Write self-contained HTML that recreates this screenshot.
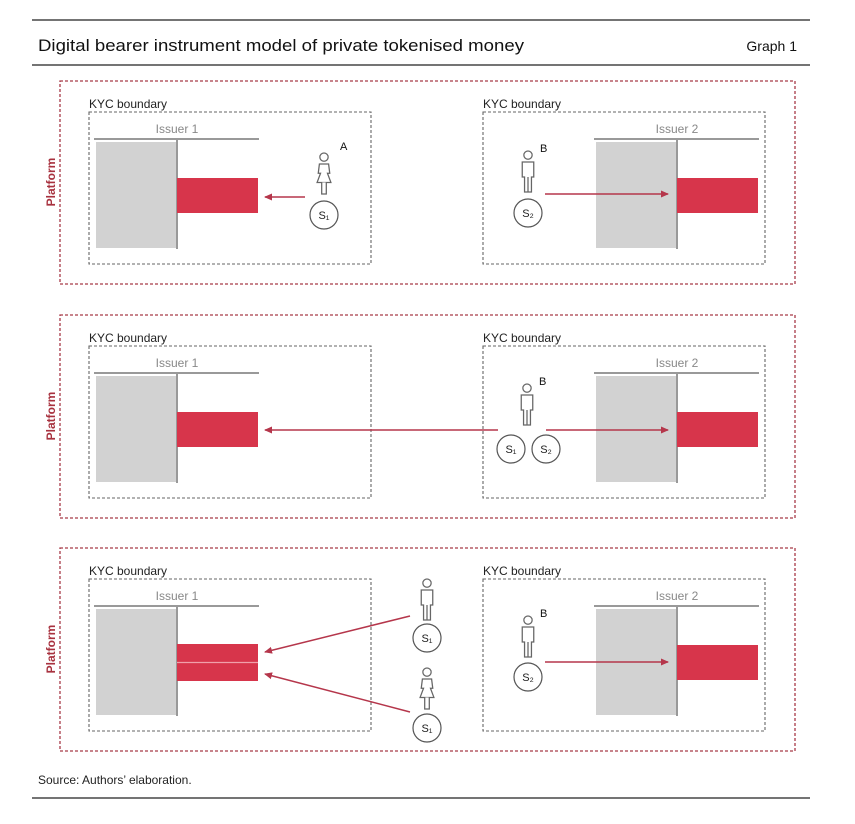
<!DOCTYPE html>
<html><head><meta charset="utf-8"><style>
html,body{margin:0;padding:0;background:#fff;}
svg{display:block;font-family:"Liberation Sans",sans-serif;}
</style></head><body>
<svg width="855" height="824" viewBox="0 0 855 824" xmlns="http://www.w3.org/2000/svg">
<defs>
<marker id="ah" markerWidth="8" markerHeight="8" refX="7" refY="4" orient="auto" markerUnits="userSpaceOnUse">
<path d="M0,0.5 L8,4 L0,7.5 Z" fill="#b5364b"/></marker>
<g id="male" fill="#fff" stroke="#666" stroke-width="1.1" transform="scale(1.15)">
<circle cx="0" cy="-19" r="3.6"/>
<path d="M-5,-13 h10 v13 h-2 v13 h-6 v-13 h-2 z"/>
<line x1="0" y1="0" x2="0" y2="13"/>
</g>
<g id="female" fill="#fff" stroke="#666" stroke-width="1.1" transform="scale(1.15)">
<circle cx="0" cy="-19" r="3.6"/>
<path d="M-4,-13 h8 l1,8 l-2,0 l3,8 h-12 l3,-8 l-2,0 z"/>
<path d="M-2,3 v10 h4 v-10"/>
</g>
<g id="issuerL">
<line x1="94" y1="0" x2="259" y2="0" stroke="#999" stroke-width="2"/>
<rect x="96" y="3" width="80" height="106" fill="#d2d2d2"/>
<line x1="177" y1="0" x2="177" y2="110" stroke="#999" stroke-width="2"/>
</g>
</defs>

<line x1="32" y1="20" x2="810" y2="20" stroke="#222" stroke-width="1.2"/>
<text x="38" y="51" font-size="17" textLength="486" lengthAdjust="spacingAndGlyphs" fill="#111">Digital bearer instrument model of private tokenised money</text>
<text x="797" y="51" font-size="14" text-anchor="end" fill="#111">Graph 1</text>
<line x1="32" y1="65" x2="810" y2="65" stroke="#222" stroke-width="1.2"/>

<g id="p1">
<rect x="60" y="81" width="735" height="203" fill="none" stroke="#a83a48" stroke-width="1.3" stroke-dasharray="3,2"/>
<text transform="translate(55,182) rotate(-90)" font-size="12" font-weight="bold" fill="#a8323f" text-anchor="middle">Platform</text>
<text x="89" y="108" font-size="12" fill="#222">KYC boundary</text>
<rect x="89" y="112" width="282" height="152" fill="none" stroke="#666" stroke-width="1.1" stroke-dasharray="3,2"/>
<text x="483" y="108" font-size="12" fill="#222">KYC boundary</text>
<rect x="483" y="112" width="282" height="152" fill="none" stroke="#666" stroke-width="1.1" stroke-dasharray="3,2"/>
<text x="177" y="133" font-size="12" fill="#888" text-anchor="middle">Issuer 1</text>
<text x="677" y="133" font-size="12" fill="#888" text-anchor="middle">Issuer 2</text>
<use href="#issuerL" transform="translate(0,139)"/>
<use href="#issuerL" transform="translate(500,139)"/>
</g>
<rect x="177" y="178" width="81" height="35" fill="#d7354b"/>
<rect x="677" y="178" width="81" height="35" fill="#d7354b"/>
<line x1="305" y1="197" x2="265" y2="197" stroke="#b5364b" stroke-width="1.5" marker-end="url(#ah)"/>
<use href="#female" transform="translate(324,179)"/>
<text x="340" y="150" font-size="11" fill="#111">A</text>
<circle cx="324" cy="215" r="14" fill="#fff" stroke="#555" stroke-width="1.2"/>
<text x="324" y="219" font-size="11" fill="#222" text-anchor="middle">S₁</text>
<use href="#male" transform="translate(528,177)"/>
<text x="540" y="152" font-size="11" fill="#111">B</text>
<circle cx="528" cy="213" r="14" fill="#fff" stroke="#555" stroke-width="1.2"/>
<text x="528" y="217" font-size="11" fill="#222" text-anchor="middle">S₂</text>
<line x1="545" y1="194" x2="668" y2="194" stroke="#b5364b" stroke-width="1.5" marker-end="url(#ah)"/>

<use href="#p1" transform="translate(0,234)"/>
<rect x="177" y="412" width="81" height="35" fill="#d7354b"/>
<rect x="677" y="412" width="81" height="35" fill="#d7354b"/>
<line x1="498" y1="430" x2="265" y2="430" stroke="#b5364b" stroke-width="1.5" marker-end="url(#ah)"/>
<line x1="546" y1="430" x2="668" y2="430" stroke="#b5364b" stroke-width="1.5" marker-end="url(#ah)"/>
<use href="#male" transform="translate(527,410)"/>
<text x="539" y="385" font-size="11" fill="#111">B</text>
<circle cx="511" cy="449" r="14" fill="#fff" stroke="#555" stroke-width="1.2"/>
<text x="511" y="453" font-size="11" fill="#222" text-anchor="middle">S₁</text>
<circle cx="546" cy="449" r="14" fill="#fff" stroke="#555" stroke-width="1.2"/>
<text x="546" y="453" font-size="11" fill="#222" text-anchor="middle">S₂</text>

<use href="#p1" transform="translate(0,467)"/>
<rect x="177" y="644" width="81" height="37" fill="#d7354b"/>
<line x1="177" y1="662.5" x2="258" y2="662.5" stroke="#f0a0aa" stroke-width="1.2"/>
<rect x="677" y="645" width="81" height="35" fill="#d7354b"/>
<line x1="410" y1="616" x2="265" y2="652" stroke="#b5364b" stroke-width="1.5" marker-end="url(#ah)"/>
<line x1="410" y1="712" x2="265" y2="674" stroke="#b5364b" stroke-width="1.5" marker-end="url(#ah)"/>
<use href="#male" transform="translate(427,605)"/>
<circle cx="427" cy="638" r="14" fill="#fff" stroke="#555" stroke-width="1.2"/>
<text x="427" y="642" font-size="11" fill="#222" text-anchor="middle">S₁</text>
<use href="#female" transform="translate(427,694)"/>
<circle cx="427" cy="728" r="14" fill="#fff" stroke="#555" stroke-width="1.2"/>
<text x="427" y="732" font-size="11" fill="#222" text-anchor="middle">S₁</text>
<use href="#male" transform="translate(528,642)"/>
<text x="540" y="617" font-size="11" fill="#111">B</text>
<circle cx="528" cy="677" r="14" fill="#fff" stroke="#555" stroke-width="1.2"/>
<text x="528" y="681" font-size="11" fill="#222" text-anchor="middle">S₂</text>
<line x1="545" y1="662" x2="668" y2="662" stroke="#b5364b" stroke-width="1.5" marker-end="url(#ah)"/>

<text x="38" y="784" font-size="12" fill="#222">Source: Authors’ elaboration.</text>
<line x1="32" y1="798" x2="810" y2="798" stroke="#222" stroke-width="1.2"/>
</svg>
</body></html>
